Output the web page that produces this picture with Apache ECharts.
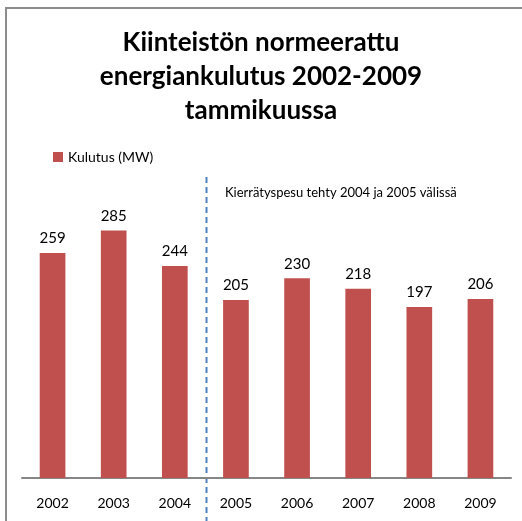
<!DOCTYPE html>
<html lang="fi">
<head>
<meta charset="utf-8">
<script src="https://cdn.jsdelivr.net/npm/echarts@6/dist/echarts.min.js"></script>
<style>
  html, body { margin: 0; padding: 0; background: #fff; }
  #main { width: 522px; height: 521px; }
</style>
</head>
<body>
<div id="main"></div>
<script type="text/javascript">
  var years = ['2002', '2003', '2004', '2005', '2006', '2007', '2008', '2009'];
  var kulutus = [259, 285, 244, 205, 230, 218, 197, 206];
  var seriesName = 'Kulutus (MW)';
  var titleText = 'Kiinteistön normeerattu\nenergiankulutus 2002-2009\ntammikuussa';
  var noteText = 'Kierrätyspesu tehty 2004 ja 2005 välissä';
  var fontFamily = 'Lato, "Open Sans", sans-serif';

  var chart = echarts.init(document.getElementById('main'));

  var option = {
    animation: false,
    backgroundColor: '#fff',
    title: {
      text: titleText,
      left: 'center',
      top: 21,
      textStyle: {
        fontFamily: fontFamily,
        fontSize: 26,
        fontWeight: 'bold',
        color: '#000',
        lineHeight: 34
      }
    },
    legend: {
      left: 48,
      top: 145,
      itemWidth: 10,
      itemHeight: 10,
      itemGap: 4,
      icon: 'rect',
      textStyle: { fontFamily: fontFamily, fontSize: 14, color: '#000' },
      data: [seriesName]
    },
    grid: {
      left: 22,
      right: 11,
      top: 174,
      bottom: 43,
      containLabel: false
    },
    xAxis: {
      type: 'category',
      data: years,
      axisLine: { lineStyle: { color: '#868686', width: 2 } },
      axisTick: { show: false },
      axisLabel: {
        fontFamily: fontFamily,
        fontSize: 14,
        color: '#000',
        margin: 18
      }
    },
    yAxis: {
      type: 'value',
      min: 0,
      max: 350,
      show: false,
      splitLine: { show: false }
    },
    series: [{
      name: seriesName,
      type: 'bar',
      data: kulutus,
      barWidth: '42%',
      itemStyle: { color: '#c0504d' },
      label: {
        show: true,
        position: 'top',
        distance: 7,
        fontFamily: fontFamily,
        fontSize: 15,
        color: '#000'
      }
    }]
  };

  chart.setOption(option);

  // dashed divider between 2004 and 2005, plus frame and note
  var x04 = chart.convertToPixel({ xAxisIndex: 0 }, '2004');
  var x05 = chart.convertToPixel({ xAxisIndex: 0 }, '2005');
  var xDiv = Math.round((x04 + x05) / 2) + 1.5;

  chart.setOption({
    graphic: [
      {
        type: 'rect',
        shape: { x: 6, y: 8, width: 700, height: 700 },
        style: { fill: null, stroke: '#8c8c8c', lineWidth: 2 },
        silent: true
      },
      {
        type: 'line',
        shape: { x1: xDiv, y1: 177, x2: xDiv, y2: 521 },
        style: { stroke: '#4f81bd', lineWidth: 2, lineDash: [6, 4] },
        silent: true
      },
      {
        type: 'text',
        left: 225,
        top: 186,
        style: {
          text: noteText,
          fontFamily: fontFamily,
          fontSize: 13,
          fill: '#000'
        },
        silent: true
      }
    ]
  });
</script>
</body>
</html>
